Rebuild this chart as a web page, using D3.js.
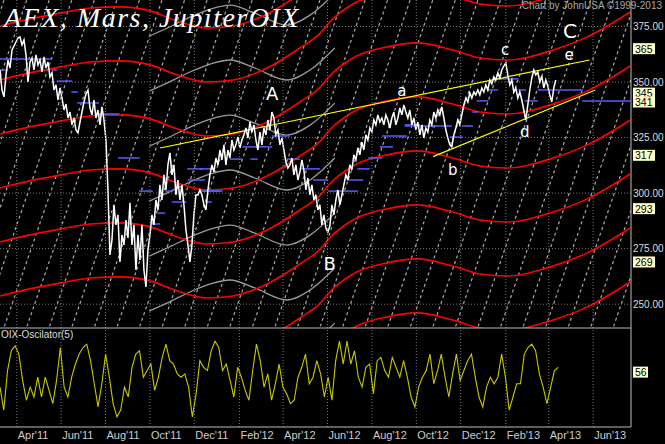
<!DOCTYPE html>
<html>
<head>
<meta charset="utf-8">
<script src="https://cdn.jsdelivr.net/npm/d3@7"></script>
<style>
body { margin: 0; background: #000; }
svg { display: block; }
</style>
</head>
<body>
<div id="chart"></div>
<script>
// AEX close, one value every ~2.75 calendar days from 9 Mar 2011
var closeStep = 2.747;
var closes = [355.4,346.4,343.3,353.2,359.9,356.3,364.4,366.2,368.0,369.8,370.3,366.7,368.9,362.2,350.0,359.0,360.8,355.4,362.2,357.7,359.9,354.5,361.3,356.3,359.0,352.3,354.1,346.4,348.7,341.9,347.3,342.8,337.4,340.1,333.8,336.5,330.7,333.8,328.4,327.1,332.0,336.5,341.0,344.6,346.4,338.3,335.2,341.9,333.8,337.4,330.7,338.8,332.9,323.9,301.4,272.2,278.9,294.6,285.7,290.2,269.0,281.2,276.7,287.9,279.8,295.6,276.7,285.7,265.4,281.2,269.9,285.7,265.4,257.8,274.4,281.2,290.2,285.7,296.9,292.4,303.7,296.9,308.2,301.4,312.7,318.1,308.2,312.7,299.2,305.9,296.9,303.7,294.7,283.4,276.7,269.0,276.7,290.2,299.2,299.2,301.4,299.2,294.7,292.4,301.4,308.2,312.7,309.5,315.8,312.7,319.4,314.9,321.7,312.7,319.4,315.8,323.9,319.4,321.7,325.3,320.3,323.9,326.2,329.3,324.8,332.0,327.5,330.7,323.9,319.4,327.5,321.7,329.3,326.2,332.9,328.4,336.5,333.8,326.2,328.4,321.7,324.8,319.4,314.0,311.3,312.7,315.8,308.2,312.7,305.9,309.5,314.9,310.4,301.4,306.8,299.2,303.7,296.9,299.2,292.4,294.7,285.7,290.2,284.3,282.5,285.2,294.7,290.2,296.9,301.4,294.7,299.2,303.7,308.2,305.9,312.7,310.4,317.2,314.9,320.3,317.2,323.0,319.4,326.2,323.9,329.3,327.5,332.9,330.7,335.2,332.0,333.8,330.7,335.2,332.9,329.3,333.8,336.5,330.7,333.8,338.3,335.2,339.7,336.5,333.8,337.4,330.7,333.8,328.4,332.0,326.2,330.7,324.8,329.3,327.5,332.9,330.7,336.5,333.8,337.4,335.2,338.8,333.8,328.4,324.8,321.7,320.8,326.2,329.3,332.9,330.7,335.2,339.7,342.8,341.0,345.1,342.8,345.5,344.2,346.4,344.2,347.3,345.5,348.7,346.4,350.9,349.1,352.3,350.9,354.1,351.8,355.4,357.2,358.6,353.2,348.7,350.9,345.5,347.3,342.8,345.5,341.9,337.4,332.9,339.7,346.4,351.8,355.4,353.2,354.5,350.0,352.7,347.3,350.9,348.2,344.2,341.0,347.3,350.9];

// OIX oscillator(5), evenly spread over the same period
var oscValues = [40.7,17.2,57.6,77.8,82.8,74.4,47.5,27.3,40.7,30.6,50.8,30.6,50.8,37.4,23.9,47.5,81.1,40.7,30.6,50.8,64.3,74.4,81.1,84.5,67.7,44.1,20.5,44.1,74.4,50.8,23.9,10.4,17.2,40.7,30.6,60.9,74.4,77.8,50.8,57.6,64.3,37.4,50.8,71.0,84.5,67.7,64.3,54.2,50.8,54.2,40.7,10.4,34.0,67.7,60.9,57.6,77.8,87.6,81.1,57.6,64.3,47.5,30.6,60.9,50.8,37.4,27.3,57.6,84.5,67.7,40.7,54.2,27.3,44.1,64.3,40.7,34.0,23.9,27.3,50.8,60.9,74.4,44.1,50.8,67.7,54.2,30.6,50.8,27.3,67.7,87.6,64.3,87.6,64.3,77.8,50.8,40.7,60.9,64.3,34.0,67.7,71.0,57.6,50.8,71.0,60.9,50.8,67.7,50.8,30.6,20.5,40.7,50.8,57.6,74.4,44.1,57.6,74.4,50.8,30.6,54.2,74.4,47.5,57.6,67.7,74.4,50.8,30.6,20.5,40.7,50.8,44.1,50.8,74.4,50.8,17.2,30.6,44.1,44.1,74.4,81.1,84.5,77.8,54.2,40.7,23.9,40.7,57.6,60.9];
var oscDays = 767;

// blue pivot levels: [start day, end day, level]
var pivots = [[0,71,360.4],[0,11,355.4],[71,78,355.4],[78,99,350.4],[98,107,345.5],[106,136,340.6],[135,164,335.6],[162,192,315.8],[191,210,300.9],[209,220,286.1],[216,227,291.0],[227,238,300.9],[236,256,296.0],[258,282,305.9],[257,279,310.9],[279,302,300.9],[282,291,296.0],[275,293,310.9],[275,306,300.9],[316,333,315.3],[333,374,320.8],[374,398,325.7],[344,354,315.3],[394,412,315.3],[412,440,310.9],[430,451,305.9],[451,492,300.9],[477,499,305.9],[491,508,310.9],[506,525,315.8],[525,559,325.7],[522,540,320.8],[556,577,330.7],[550,556,325.2],[556,621,330.2],[618,636,325.2],[635,650,330.2],[649,657,336.5],[655,671,341.5],[669,684,346.4],[683,712,351.4],[712,723,346.4],[721,739,341.5],[739,801,346.4],[800,866,341.5]];

// Mars curve (red): one traced path, repeated at fixed level shifts
var marsDays = [0,41,82,124,165,206,240,284,320,367,412,440,453,485,532,573,622,660,697,760,807,866];
var marsVals = [350.9,354.1,356.7,359.0,359.5,357.7,353.6,350.0,350.9,356.3,365.3,372.0,377.0,385.1,390.1,391.9,388.7,385.1,384.2,388.7,394.6,405.8];
var marsShifts = [24.3,0,-24.3,-48.6,-72.9,-97.2,-121.5,-145.8,-170.1];

// Jupiter curve (gray)
var jupDays = [205,235,261,289,316,350,394,426,460];
var jupVals = [-14.0,-9.5,-5.4,-1.8,0,-3.6,-9.0,-4.5,5.4];
var jupShifts = [384.6,359.9,335.1,310.4,285.6,260.9,236.1];

// yellow trend lines: [day1, value1, day2, value2]
var trendLines = [[220,320.3,810,359.9],[595,316.4,818,346.4]];

var waveLabels = [["A",374,341.9,18],["B",453,265.4,18],["a",552,343.7,15],["b",622,308.2,15],["c",694,362.2,15],["d",721,325.2,15],["C",783,369.8,20],["e",782,359.9,15]];

var gridLevels = [375,350,325,300,275,250];
var boxLevels = [365,345,341,317,293,269];
var oscLast = 56;

var W = 665, H = 444;
var plotR = 631, mainB = 328, oscT = 328, oscB = 427;
var start = new Date(2011, 2, 9);
var dayMs = 864e5;
function dayDate(d) { return new Date(start.getTime() + d * dayMs); }

var x = d3.scaleTime().domain([start, dayDate(867)]).range([0, plotR]);
var y = d3.scaleLinear().domain([250, 350]).range([304.2, 82]);
var yo = d3.scaleLinear().domain([0, 100]).range([oscB, oscT + 1]);

var svg = d3.select("#chart").append("svg").attr("width", W).attr("height", H)
    .style("background", "#000");

svg.append("defs").append("clipPath").attr("id", "mainClip")
    .append("rect").attr("x", 0).attr("y", 0).attr("width", plotR).attr("height", mainB);

var main = svg.append("g").attr("clip-path", "url(#mainClip)");

// dotted grid
var months = d3.timeMonth.range(new Date(2011, 3, 1), new Date(2013, 6, 2))
    .filter(function (d) { return d.getMonth() % 2 === 1; });
svg.selectAll(".vg").data(months).enter().append("line")
    .attr("x1", function (d) { return x(d); }).attr("x2", function (d) { return x(d); })
    .attr("y1", 0).attr("y2", oscB)
    .attr("stroke", "#777").attr("stroke-dasharray", "1,2");
main.selectAll(".hg").data(gridLevels).enter().append("line")
    .attr("x1", 0).attr("x2", plotR)
    .attr("y1", function (d) { return y(d); }).attr("y2", function (d) { return y(d); })
    .attr("stroke", "#777").attr("stroke-dasharray", "1,2");

// steep gray dashed lines
var diag = d3.range(-180, 900, 31);
main.selectAll(".dg").data(diag).enter().append("line")
    .attr("x1", function (d) { return x(dayDate(d)); })
    .attr("y1", y(240))
    .attr("x2", function (d) { return x(dayDate(d + 170)); })
    .attr("y2", y(240 + 170 * 0.95))
    .attr("stroke", "#aaa").attr("stroke-dasharray", "3,3").attr("stroke-width", 1.2);

var curve = d3.line().curve(d3.curveMonotoneX)
    .x(function (d) { return x(dayDate(d[0])); })
    .y(function (d) { return y(d[1]); });

main.selectAll(".gc").data(jupShifts).enter().append("path")
    .attr("d", function (s) { return curve(jupDays.map(function (d, i) { return [d, s + jupVals[i]]; })); })
    .attr("fill", "none").attr("stroke", "#999").attr("stroke-width", 1.3);
main.selectAll(".rc").data(marsShifts).enter().append("path")
    .attr("d", function (s) { return curve(marsDays.map(function (d, i) { return [d, s + marsVals[i]]; })); })
    .attr("fill", "none").attr("stroke", "#f00").attr("stroke-width", 1.6);

// pivots
main.selectAll(".pv").data(pivots).enter().append("line")
    .attr("x1", function (d) { return x(dayDate(d[0])); })
    .attr("x2", function (d) { return x(dayDate(d[1])); })
    .attr("y1", function (d) { return y(d[2]); }).attr("y2", function (d) { return y(d[2]); })
    .attr("stroke", "#5a5aff").attr("stroke-width", 1.5);

// trend lines
main.selectAll(".tl").data(trendLines).enter().append("line")
    .attr("x1", function (d) { return x(dayDate(d[0])); }).attr("y1", function (d) { return y(d[1]); })
    .attr("x2", function (d) { return x(dayDate(d[2])); }).attr("y2", function (d) { return y(d[3]); })
    .attr("stroke", "#ff0").attr("stroke-width", 1.2);

// price
main.append("path").datum(closes)
    .attr("d", d3.line()
        .x(function (d, i) { return x(dayDate(i * closeStep)); })
        .y(function (d) { return y(d); }))
    .attr("fill", "none").attr("stroke", "#fff").attr("stroke-width", 1.5);

svg.selectAll(".wl").data(waveLabels).enter().append("text")
    .attr("x", function (d) { return x(dayDate(d[1])); })
    .attr("y", function (d) { return y(d[2]); })
    .attr("text-anchor", "middle")
    .attr("font-family", "DejaVu Sans").attr("font-size", function (d) { return d[3] + "px"; })
    .attr("fill", "#fff").text(function (d) { return d[0]; });

svg.append("text").attr("x", 4).attr("y", 27)
    .attr("font-family", "Liberation Serif").attr("font-style", "italic")
    .attr("font-size", "28px").attr("fill", "#fff").attr("letter-spacing", "1.5")
    .text("AEX, Mars, JupiterOIX");
svg.append("text").attr("x", 662).attr("y", 9).attr("text-anchor", "end")
    .attr("font-family", "Liberation Sans").attr("font-size", "10px").attr("fill", "#aaa")
    .text("Chart by JohnUSA \u00a91999-2013");

// oscillator
svg.append("path").datum(oscValues)
    .attr("d", d3.line()
        .x(function (d, i) { return x(dayDate(i * oscDays / (oscValues.length - 1))); })
        .y(function (d) { return yo(d); }))
    .attr("fill", "none").attr("stroke", "#c8c800").attr("stroke-width", 1.1);
svg.append("text").attr("x", 1).attr("y", 338)
    .attr("font-family", "Liberation Sans").attr("font-size", "10px").attr("fill", "#ddd")
    .text("OIX-Oscilator(5)");

// frame
svg.append("line").attr("x1", 0).attr("x2", plotR).attr("y1", mainB).attr("y2", mainB).attr("stroke", "#bbb");
svg.append("line").attr("x1", 0).attr("x2", plotR).attr("y1", oscB).attr("y2", oscB).attr("stroke", "#bbb");
svg.append("line").attr("x1", plotR).attr("x2", plotR).attr("y1", 0).attr("y2", oscB).attr("stroke", "#bbb");

// right axis
var yAxis = svg.append("g").attr("transform", "translate(" + plotR + ",0)")
    .call(d3.axisRight(y).tickValues(gridLevels).tickSize(0).tickPadding(2).tickFormat(d3.format(".2f")));
yAxis.select(".domain").remove();
yAxis.selectAll("text").attr("fill", "#ddd").attr("font-family", "Liberation Sans").attr("font-size", "10px");

var boxes = svg.selectAll(".bx").data(boxLevels).enter().append("g")
    .attr("transform", function (d) { return "translate(" + (plotR + 2) + "," + y(d) + ")"; });
boxes.append("rect").attr("x", 0).attr("y", -5.5).attr("width", 22).attr("height", 11).attr("fill", "#ffffc8");
boxes.append("text").attr("x", 2).attr("y", 4).attr("font-family", "Liberation Sans")
    .attr("font-size", "10.5px").attr("fill", "#000").text(function (d) { return d; });

var ob = svg.append("g").attr("transform", "translate(" + (plotR + 2) + "," + yo(oscLast) + ")");
ob.append("rect").attr("x", 0).attr("y", -5.5).attr("width", 15).attr("height", 11).attr("fill", "#ffffc8");
ob.append("text").attr("x", 2).attr("y", 4).attr("font-family", "Liberation Sans")
    .attr("font-size", "10.5px").attr("fill", "#000").text(oscLast);

// month labels
svg.selectAll(".ml").data(months).enter().append("text")
    .attr("x", function (d) { return x(d) + 1; }).attr("y", 439)
    .attr("font-family", "Liberation Sans").attr("font-size", "11px").attr("fill", "#ccc")
    .text(d3.timeFormat("%b'%y"));
</script>
</body>
</html>
